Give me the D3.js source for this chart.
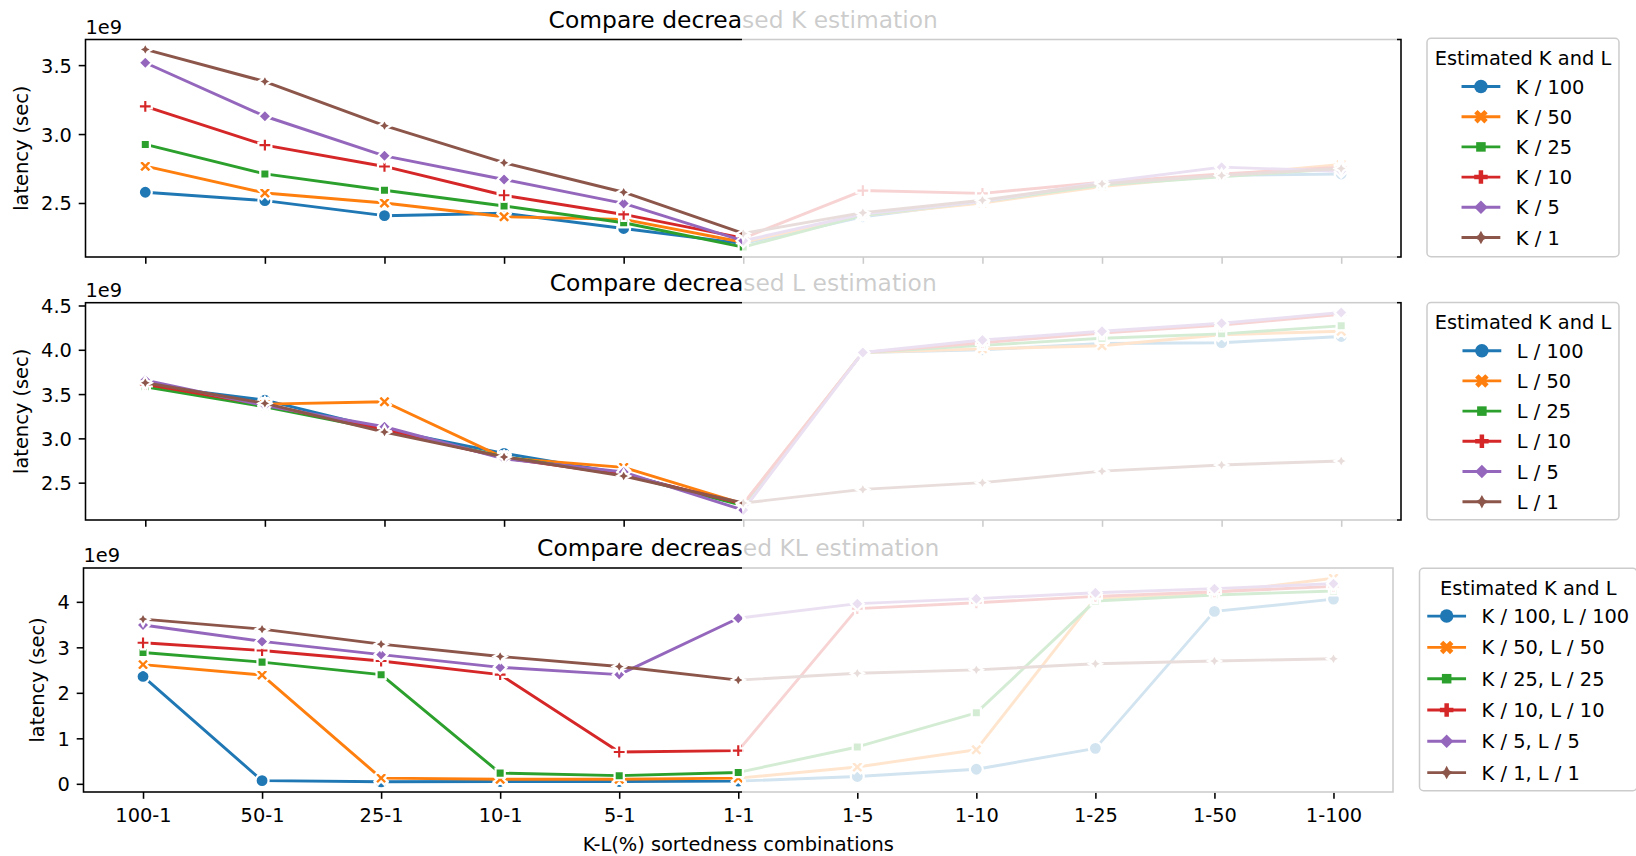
<!DOCTYPE html>
<html><head><meta charset="utf-8">
<script src="https://cdn.jsdelivr.net/npm/d3@7"></script>
<style>html,body{margin:0;padding:0;background:#fff;} svg{display:block;font-family:"DejaVu Sans",sans-serif;}</style>
</head><body>
<svg id="chart" width="1636" height="856"></svg>
<script>
// ---------------- DATA ----------------
const categories = ["100-1","50-1","25-1","10-1","5-1","1-1","1-5","1-10","1-25","1-50","1-100"];

const seriesLabelsK  = ["K / 100","K / 50","K / 25","K / 10","K / 5","K / 1"];
const seriesLabelsL  = ["L / 100","L / 50","L / 25","L / 10","L / 5","L / 1"];
const seriesLabelsKL = ["K / 100, L / 100","K / 50, L / 50","K / 25, L / 25","K / 10, L / 10","K / 5, L / 5","K / 1, L / 1"];

// latency values, in units of 1e9 sec
const valuesK = [
  [2.578, 2.517, 2.408, 2.425, 2.315, 2.205, 2.40, 2.51, 2.63, 2.70, 2.71],
  [2.767, 2.573, 2.500, 2.400, 2.381, 2.215, 2.41, 2.50, 2.62, 2.70, 2.78],
  [2.925, 2.711, 2.592, 2.478, 2.357, 2.180, 2.41, 2.51, 2.63, 2.69, 2.75],
  [3.201, 2.920, 2.765, 2.556, 2.417, 2.245, 2.59, 2.57, 2.65, 2.71, 2.76],
  [3.517, 3.129, 2.842, 2.670, 2.497, 2.226, 2.42, 2.51, 2.65, 2.76, 2.73],
  [3.614, 3.381, 3.061, 2.792, 2.578, 2.279, 2.43, 2.52, 2.64, 2.70, 2.75]
];
const valuesL = [
  [3.600, 3.432, 3.100, 2.830, 2.600, 2.250, 3.97, 4.00, 4.07, 4.08, 4.15],
  [3.610, 3.387, 3.413, 2.780, 2.673, 2.260, 3.97, 4.01, 4.045, 4.17, 4.21],
  [3.583, 3.357, 3.090, 2.790, 2.590, 2.240, 3.97, 4.05, 4.13, 4.18, 4.27],
  [3.610, 3.380, 3.100, 2.780, 2.590, 2.260, 3.97, 4.08, 4.19, 4.28, 4.40],
  [3.658, 3.370, 3.131, 2.770, 2.620, 2.190, 3.97, 4.11, 4.21, 4.30, 4.42],
  [3.628, 3.395, 3.071, 2.790, 2.575, 2.270, 2.424, 2.50, 2.63, 2.70, 2.745]
];
const valuesKL = [
  [2.36, 0.070, 0.044, 0.050, 0.050, 0.060, 0.16, 0.32, 0.78, 3.79, 4.06],
  [2.62, 2.39, 0.125, 0.100, 0.100, 0.125, 0.37, 0.75, 4.08, 4.20, 4.52],
  [2.886, 2.675, 2.40, 0.235, 0.180, 0.250, 0.81, 1.56, 4.02, 4.15, 4.24],
  [3.10, 2.93, 2.70, 2.40, 0.700, 0.730, 3.85, 3.98, 4.12, 4.22, 4.34],
  [3.49, 3.13, 2.84, 2.56, 2.40, 3.64, 3.96, 4.07, 4.20, 4.29, 4.40],
  [3.62, 3.40, 3.07, 2.80, 2.58, 2.28, 2.43, 2.505, 2.64, 2.70, 2.75]
];

const yTicksK  = [2.5, 3.0, 3.5];
const yTicksL  = [2.5, 3.0, 3.5, 4.0, 4.5];
const yTicksKL = [0, 1, 2, 3, 4];

const titles = ["Compare decreased K estimation","Compare decreased L estimation","Compare decreased KL estimation"];
const yLabel = "latency (sec)";
const xLabel = "K-L(%) sortedness combinations";
const offsetLabel = "1e9";
const legendTitle = "Estimated K and L";

const colors = ["#1f77b4","#ff7f0e","#2ca02c","#d62728","#9467bd","#8c564b"];
const markerTypes = ["circle","x","square","plus","diamond","star4"];

// ---------------- LAYOUT ----------------
const FS = 19.4, TITLE_FS = 23.4;
const LW = 2.92, MS = 13, MEW = 2.19, SPINE = 1.56, TICK = 6.8, LEG_MS = 13.5;
const panels = [
  {left:85.5, right:1401, top:39.5, bottom:257,  values:valuesK,  labels:seriesLabelsK,  ticks:yTicksK,  fmt:d3.format(".1f"), title:titles[0], showX:false, lg:{dx:26, dy:-1.2, h:218.4, first:48.2, step:30.2}},
  {left:85.5, right:1401, top:302.7, bottom:520, values:valuesL,  labels:seriesLabelsL,  ticks:yTicksL,  fmt:d3.format(".1f"), title:titles[1], showX:false, lg:{dx:26, dy:-0.2, h:217.3, first:48.2, step:30.2}},
  {left:83.5, right:1393, top:568, bottom:792,   values:valuesKL, labels:seriesLabelsKL, ticks:yTicksKL, fmt:d3.format("d"),   title:titles[2], showX:true,  lg:{dx:26.5, dy:0.3, h:222.4, first:47.8, step:31.3}}
];

const svg = d3.select("#chart");

function markerPath(type, ms) {
  const r = ms / 2;
  const poly = pts => "M" + pts.map(p => p[0].toFixed(2) + "," + p[1].toFixed(2)).join("L") + "Z";
  const reg = (n, rot, inner) => {
    const pts = [];
    const count = inner ? 2 * n : n;
    for (let i = 0; i < count; i++) {
      const th = 2 * Math.PI / count * i + Math.PI / 2 + rot * Math.PI / 180;
      const rr = inner && (i % 2 === 1) ? r * inner : r;
      pts.push([rr * Math.cos(th), -rr * Math.sin(th)]);
    }
    return poly(pts);
  };
  switch (type) {
    case "circle": { const p = d3.path(); p.arc(0, 0, r, 0, 2 * Math.PI); p.closePath(); return p.toString(); }
    case "x": return poly([[-1,-2],[0,-1],[1,-2],[2,-1],[1,0],[2,1],[1,2],[0,1],[-1,2],[-2,1],[-1,0],[-2,-1]].map(p => [p[0]/4*ms, p[1]/4*ms]));
    case "plus": return poly([[-1,-3],[1,-3],[1,-1],[3,-1],[3,1],[1,1],[1,3],[-1,3],[-1,1],[-3,1],[-3,-1],[-1,-1]].map(p => [p[0]/6*ms, p[1]/6*ms]));
    case "square": return reg(4, 45, 0);
    case "diamond": return reg(4, 0, 0);
    case "star4": return reg(4, 0, 0.5);
  }
}

const plotLayer = svg.append("g");
const legendLayer = svg.append("g");

panels.forEach((P, pi) => {
  const g = plotLayer.append("g");
  const x = d3.scalePoint().domain(categories).range([P.left, P.right]).padding(0.5);
  const all = P.values.flat();
  const [mn, mx] = d3.extent(all);
  const m = (mx - mn) * 0.05;
  const y = d3.scaleLinear().domain([mn - m, mx + m]).range([P.bottom, P.top]);

  // series
  const line = d3.line().x((d, i) => x(categories[i])).y(d => y(d));
  P.values.forEach((vals, si) => {
    const sg = g.append("g");
    sg.append("path").attr("d", line(vals)).attr("fill", "none")
      .attr("stroke", colors[si]).attr("stroke-width", LW).attr("stroke-linejoin", "round").attr("stroke-linecap", "round");
    sg.selectAll("path.mk").data(vals).join("path").attr("class", "mk")
      .attr("d", markerPath(markerTypes[si], MS))
      .attr("transform", (d, i) => `translate(${x(categories[i])},${y(d)})`)
      .attr("fill", colors[si]).attr("stroke", "#fff").attr("stroke-width", MEW).attr("stroke-linejoin", "miter");
  });

  // spines
  g.append("rect").attr("x", P.left).attr("y", P.top).attr("width", P.right - P.left).attr("height", P.bottom - P.top)
    .attr("fill", "none").attr("stroke", "#000").attr("stroke-width", SPINE);

  // x axis
  const xAxis = d3.axisBottom(x).tickSizeOuter(0).tickSizeInner(TICK).tickPadding(6.8);
  const xg = g.append("g").attr("transform", `translate(0,${P.bottom})`).call(xAxis);
  xg.select(".domain").remove();
  xg.selectAll(".tick line").attr("stroke", "#000").attr("stroke-width", SPINE);
  if (P.showX) {
    xg.selectAll(".tick text").attr("font-size", FS).attr("font-family", "DejaVu Sans").attr("fill", "#000").attr("dy", null).attr("y", 30);
  } else {
    xg.selectAll(".tick text").remove();
  }

  // y axis
  const yAxis = d3.axisLeft(y).tickValues(P.ticks).tickFormat(P.fmt).tickSizeOuter(0).tickSizeInner(TICK).tickPadding(6.8);
  const yg = g.append("g").attr("transform", `translate(${P.left},0)`).call(yAxis);
  yg.select(".domain").remove();
  yg.selectAll(".tick line").attr("stroke", "#000").attr("stroke-width", SPINE);
  yg.selectAll(".tick text").attr("font-size", FS).attr("font-family", "DejaVu Sans").attr("fill", "#000").attr("dy", "0.36em");

  // y label
  let minLeft = Infinity;
  yg.selectAll(".tick text").each(function () { const b = this.getBBox(); minLeft = Math.min(minLeft, P.left + b.x); });
  const ylx = minLeft - 13.2;
  g.append("text").attr("transform", `translate(${ylx},${(P.top + P.bottom) / 2}) rotate(-90)`)
    .attr("text-anchor", "middle").attr("font-size", FS).attr("fill", "#000").text(yLabel);

  // offset text
  g.append("text").attr("x", P.left).attr("y", P.top - 6).attr("font-size", FS).attr("fill", "#000").text(offsetLabel);

  // title
  g.append("text").attr("x", (P.left + P.right) / 2).attr("y", P.top - 12).attr("text-anchor", "middle")
    .attr("font-size", TITLE_FS).attr("fill", "#000").text(P.title);

  if (P.showX) {
    g.append("text").attr("x", (P.left + P.right) / 2).attr("y", 850.5).attr("text-anchor", "middle")
      .attr("font-size", FS).attr("fill", "#000").text(xLabel);
  }

  // legend
  const L = P.lg;
  const lgx = P.right + L.dx, lgy = P.top + L.dy;
  const lg = legendLayer.append("g");
  const box = lg.append("rect");
  const tt = lg.append("text").attr("font-size", FS).attr("fill", "#000").attr("text-anchor", "middle").text(legendTitle);
  const titleW = tt.node().getComputedTextLength();
  const labs = P.labels.map((s, i) => lg.append("text").attr("font-size", FS).attr("fill", "#000").text(s));
  const maxLab = d3.max(labs, t => t.node().getComputedTextLength());
  const handleLen = 2 * FS, htPad = 0.8 * FS, bpad = 0.4 * FS;
  const entW = handleLen + htPad + maxLab;
  const innerW = Math.max(titleW, entW);
  const boxW = innerW + 2 * bpad;
  box.attr("x", lgx).attr("y", lgy).attr("width", boxW).attr("height", L.h).attr("rx", 4).attr("ry", 4)
    .attr("fill", "#fff").attr("fill-opacity", 0.8).attr("stroke", "#cccccc").attr("stroke-width", 1.5);
  tt.attr("x", lgx + bpad + innerW / 2).attr("y", lgy + 26.5);
  const ex = lgx + bpad + (innerW - entW) / 2;
  labs.forEach((t, i) => {
    const cy = lgy + L.first + L.step * i;
    lg.append("line").attr("x1", ex).attr("x2", ex + handleLen).attr("y1", cy).attr("y2", cy)
      .attr("stroke", colors[i]).attr("stroke-width", LW);
    lg.append("path").attr("d", markerPath(markerTypes[i], LEG_MS)).attr("transform", `translate(${ex + handleLen / 2},${cy})`)
      .attr("fill", colors[i]).attr("stroke", "none");
    t.attr("x", ex + handleLen + htPad).attr("y", cy + 7);
  });
});

// translucent white veil over the right half of the plots
plotLayer.append("rect").attr("x", 742).attr("y", 0).attr("width", 1397 - 742).attr("height", 793)
  .attr("fill", "#fff").attr("fill-opacity", 0.8);
</script>
</body></html>
